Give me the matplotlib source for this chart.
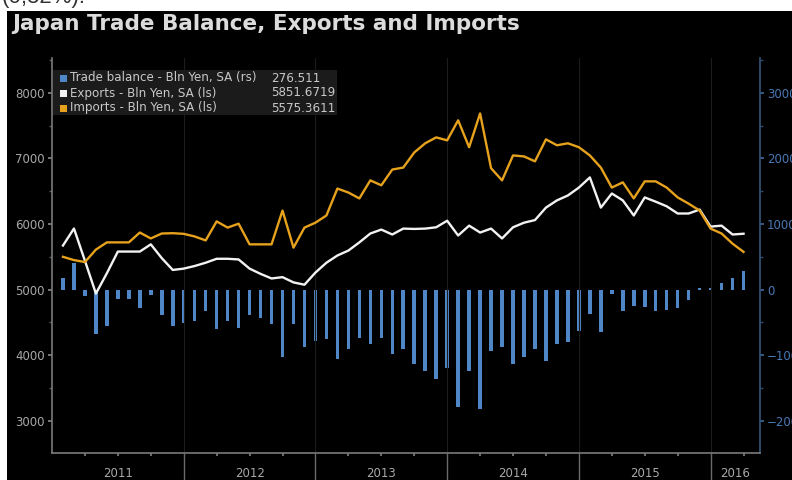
import matplotlib
matplotlib.use('Agg')
import matplotlib.pyplot as plt
import matplotlib.transforms as mtrans
from matplotlib.patches import Rectangle
from matplotlib.ticker import MultipleLocator, FixedLocator, NullFormatter
import numpy as np

# monthly values, Jan 2011 .. Mar 2016 (bln yen, seasonally adjusted)
exports = [5672, 5931, 5440, 4940, 5250, 5580, 5580, 5580, 5690, 5480, 5300, 5320,
           5360, 5410, 5470, 5470, 5460, 5320, 5240, 5170, 5190, 5110, 5075, 5260,
           5410, 5520, 5595, 5720, 5855, 5915, 5840, 5930, 5925, 5930, 5950, 6050,
           5825, 5975, 5870, 5930, 5780, 5950, 6020, 6060, 6250, 6360, 6435, 6555,
           6710, 6250, 6465, 6360, 6130, 6405, 6340, 6270, 6160, 6160, 6220, 5960,
           5975, 5840, 5851.6719]
imports = [5500, 5450, 5420, 5610, 5720, 5720, 5720, 5870, 5780, 5855, 5860, 5850,
           5810, 5750, 6040, 5945, 6005, 5690, 5690, 5690, 6205, 5640, 5945, 6020,
           6130, 6540, 6480, 6390, 6665, 6590, 6830, 6860, 7090, 7230, 7320, 7275,
           7580, 7170, 7685, 6850, 6665, 7045, 7030, 6955, 7290, 7200, 7230, 7170,
           7045, 6860, 6555, 6635, 6390, 6650, 6650, 6555, 6405, 6310, 6205, 5930,
           5855, 5700, 5575.3611]
balance = [180, 400, -100, -670, -560, -140, -140, -280, -80, -380, -560, -510,
           -480, -330, -600, -480, -585, -380, -430, -520, -1020, -520, -880, -780,
           -750, -1060, -900, -730, -830, -730, -980, -900, -1140, -1240, -1360, -1190,
           -1790, -1240, -1820, -930, -880, -1130, -1030, -900, -1085, -830, -800, -625,
           -370, -650, -65, -320, -245, -270, -320, -310, -280, -160, 30, 25,
           100, 170, 276.511]
years = ['2011', '2012', '2013', '2014', '2015', '2016']
legend_labels = ['Trade balance - Bln Yen, SA (rs)',
                 'Exports - Bln Yen, SA (ls)',
                 'Imports - Bln Yen, SA (ls)']

W, H = 792, 480
def fx(p): return p / W
def fy(p): return 1 - p / H

BLUE = '#4f86c6'
WHITE = '#f2f2f2'
ORANGE = '#e6a21c'
GREY = '#a8a8a8'

fig = plt.figure(figsize=(7.92, 4.8), dpi=100, facecolor='white')
fig.patches.append(Rectangle((fx(7), 0), 1, fy(11), transform=fig.transFigure,
                             facecolor='black', edgecolor='none', zorder=-5))
# tail of the article text above the picture, mostly cut off
fig.text(fx(2), fy(3), '(0,32%).', fontsize=16, family='Liberation Sans',
         color='#333333', va='baseline')
fig.text(fx(12), fy(24), 'Japan Trade Balance, Exports and Imports', fontsize=15.5,
         fontweight='bold', color='#dcdcdc', va='center')

ax = fig.add_axes([fx(52), fy(453), fx(760) - fx(52), fy(58) - fy(453)])
ax2 = ax.twinx()
ax.set_zorder(ax2.get_zorder() + 1)
ax.patch.set_visible(False)

x = np.arange(1, len(exports) + 1)
ax2.bar(x, balance, width=0.32, color=BLUE, zorder=2)
ax.plot(x, exports, color=WHITE, lw=1.7, zorder=3)
ax.plot(x, imports, color=ORANGE, lw=1.7, zorder=3)

lo, hi = 2510, 8530
ax.set_ylim(lo, hi)
ax2.set_ylim(lo - 5000, hi - 5000)
ax.set_xlim(0, 64.5)

# x axis: year separators + quarter dots
ax.xaxis.set_major_locator(FixedLocator([12, 24, 36, 48, 60]))
ax.xaxis.set_minor_locator(FixedLocator([q for q in range(3, 64, 3) if q % 12]))
ax.xaxis.set_major_formatter(NullFormatter())
ax.tick_params(axis='x', which='major', length=20, width=1, color='#6a6a6a', direction='out')
ax.tick_params(axis='x', which='minor', length=2, width=1.5, color='#6a6a6a', direction='out')
ax.xaxis.grid(True, which='major', color='#1c1c1c', lw=0.8)

ax.yaxis.set_major_locator(MultipleLocator(1000))
ax.yaxis.set_minor_locator(MultipleLocator(500))
ax.tick_params(axis='y', which='major', length=3, width=1.2, color='#8a8a8a',
               labelcolor=GREY, labelsize=8.5, pad=2)
ax.tick_params(axis='y', which='minor', length=2, width=1, color='#5a5a5a')

ax2.yaxis.set_major_locator(MultipleLocator(1000))
ax2.yaxis.set_minor_locator(MultipleLocator(500))
ax2.tick_params(axis='y', which='major', length=3, width=1.2, color='#3f6a9c',
                labelcolor='#4a78b5', labelsize=8.5, pad=2)
ax2.tick_params(axis='y', which='minor', length=2, width=1, color='#2c4a6e')

for s in ['top', 'right']:
    ax.spines[s].set_visible(False)
for s in ['left', 'bottom']:
    ax.spines[s].set_color('#7a7a7a')
    ax.spines[s].set_linewidth(1.2)
for s in ['top', 'left', 'bottom']:
    ax2.spines[s].set_visible(False)
ax2.spines['right'].set_color('#35557a')
ax2.spines['right'].set_linewidth(1.2)

trans = mtrans.blended_transform_factory(ax.transData, ax.transAxes)
starts = [0, 12, 24, 36, 48, 60]
ends = [12, 24, 36, 48, 60, 64.5]
for yr, a, b in zip(years, starts, ends):
    ax.text((a + b) / 2, -0.053, yr, transform=trans, ha='center', va='center',
            color=GREY, fontsize=8.5)

# legend box
fig.patches.append(Rectangle((fx(53), fy(115)), fx(337) - fx(53), (115 - 70) / H,
                             transform=fig.transFigure, facecolor='#1b1b1b',
                             edgecolor='none', zorder=5))
values = ['%g' % balance[-1], '%.4f' % exports[-1], '%.4f' % imports[-1]]
for k, (lab, val, c) in enumerate(zip(legend_labels, values, [BLUE, WHITE, ORANGE])):
    yy = 78 + 15 * k
    fig.patches.append(Rectangle((fx(60), fy(yy + 3.5)), 7 / W, 7 / H,
                                 transform=fig.transFigure, facecolor=c,
                                 edgecolor='none', zorder=6))
    fig.text(fx(70), fy(yy), lab, fontsize=8.6, color='#c8c8c8', va='center', zorder=6)
    fig.text(fx(271), fy(yy), val, fontsize=8.6, color='#c8c8c8', va='center', zorder=6)

fig.savefig('out.png', dpi=100, facecolor='white')
